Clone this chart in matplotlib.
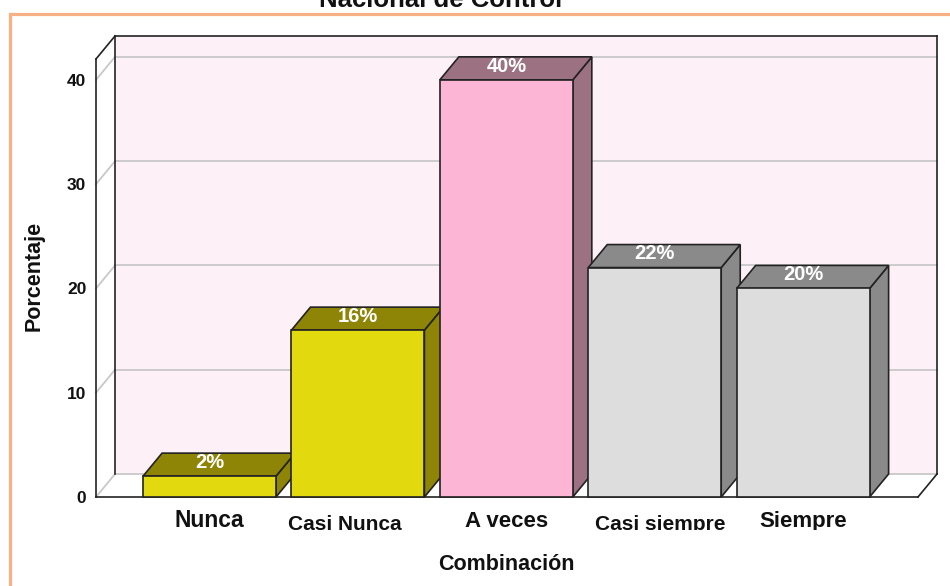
import matplotlib
matplotlib.use("Agg")
import matplotlib.pyplot as plt
from matplotlib.patches import Polygon, Rectangle
from matplotlib.transforms import Bbox, TransformedBbox

plt.rcParams["font.family"] = ["Liberation Sans", "DejaVu Sans"]

# ---- data ----
categories = ["Nunca", "Casi Nunca", "A veces", "Casi siempre", "Siempre"]
percentages = [2, 16, 40, 22, 20]
y_ticks = [0, 10, 20, 30, 40]
title_text = "Nacional de Control"
x_title = "Combinación"
y_title = "Porcentaje"

# ---- styling ----
front_colors = ["#E3D90F", "#E3D90F", "#FDB5D5", "#DDDDDD", "#DDDDDD"]
shade_colors = ["#8E8406", "#8E8406", "#9C7282", "#8A8A8A", "#8A8A8A"]
label_sizes = [16.5, 15, 16, 15, 16]
label_drop = [21.6, 23.8, 21.6, 23.8, 21.6]      # points below the floor line
label_shift = [0, -9.5, 0, 4, 0]                 # points, horizontal nudge
BAR_WIDTH = 0.896
DEPTH_PX = (19, 23)                              # 3-D depth in pixels
EDGE = "#222222"
GRID = "#C8C8C8"
WALL = "#FEF0F7"

W, H = 950, 586
fig = plt.figure(figsize=(W / 100, H / 100), dpi=100)
fig.patch.set_facecolor("white")

# front plane of the chart
left_px, right_px, bottom_px, top_px = 96, 918, 497, 59
ax = fig.add_axes([left_px / W, 1 - bottom_px / H,
                   (right_px - left_px) / W, (bottom_px - top_px) / H])
ax.set_facecolor("none")
for s in ax.spines.values():
    s.set_visible(False)
ax.set_xlim(-0.765, 4.774)
ax.set_ylim(0, 42.0)

# depth offset converted to data units
inv = ax.transData.inverted()
o = inv.transform(ax.transData.transform((0, 0)) + DEPTH_PX)
dx, dy = o[0], o[1]

xl, xr = ax.get_xlim()
ymax = ax.get_ylim()[1]


def poly(pts, fc, ec="none", lw=0, z=1):
    p = Polygon(pts, closed=True, facecolor=fc, edgecolor=ec, linewidth=lw,
                zorder=z, clip_on=False, joinstyle="miter")
    ax.add_patch(p)


def line(xs, ys, color, lw=1.2, z=2):
    ax.plot(xs, ys, color=color, lw=lw, zorder=z, clip_on=False,
            solid_capstyle="projecting")


# back wall, side wall and floor
poly([(xl + dx, dy), (xr + dx, dy), (xr + dx, ymax + dy), (xl + dx, ymax + dy)], WALL, z=1)
poly([(xl, 0), (xl, ymax), (xl + dx, ymax + dy), (xl + dx, dy)], "white", z=1)
poly([(xl, 0), (xr, 0), (xr + dx, dy), (xl + dx, dy)], "white", z=1)

# gridlines on the back and left walls
for t in y_ticks:
    line([xl + dx, xr + dx], [t + dy, t + dy], GRID, lw=1.3, z=2)
    line([xl, xl + dx], [t, t + dy], GRID, lw=1.3, z=2)

# frame edges
line([xl + dx, xl + dx], [dy, ymax + dy], EDGE, z=3)
line([xl + dx, xr + dx], [ymax + dy, ymax + dy], EDGE, z=3)
line([xr + dx, xr + dx], [dy, ymax + dy], EDGE, z=3)
line([xl, xl], [0, ymax], EDGE, z=3)
line([xl, xl + dx], [ymax, ymax + dy], EDGE, z=3)
line([xl, xr], [0, 0], EDGE, z=3)
line([xr, xr + dx], [0, dy], EDGE, z=3)

# 3-D bars, drawn left to right so later fronts overlap earlier sides
for i, (h, fc, sc) in enumerate(zip(percentages, front_colors, shade_colors)):
    z = 10 + i
    x0, x1 = i - BAR_WIDTH / 2, i + BAR_WIDTH / 2
    poly([(x1, 0), (x1 + dx, dy), (x1 + dx, h + dy), (x1, h)], sc, EDGE, 1.2, z)
    poly([(x0, h), (x1, h), (x1 + dx, h + dy), (x0 + dx, h + dy)], sc, EDGE, 1.2, z)
    ax.bar(i, h, width=BAR_WIDTH, color=fc, edgecolor=EDGE, linewidth=1.2,
           zorder=z, clip_on=False)
    ax.annotate(f"{h}%", xy=(i, h), xytext=(0, 6), textcoords="offset points",
                ha="center", va="baseline", color="white", fontsize=14.5,
                fontweight="bold", zorder=z + 0.5, annotation_clip=False)

# y ticks
ax.set_yticks(y_ticks)
ax.set_yticklabels([str(t) for t in y_ticks], fontsize=12.5, fontweight="bold",
                   color="#111111")
ax.tick_params(axis="y", length=0, pad=7)
ax.set_xticks([])

# category labels
clip = TransformedBbox(Bbox([[0, 1 - 529.5 / H], [1, 1]]), fig.transFigure)
for i, (c, fs, drop, sh) in enumerate(zip(categories, label_sizes, label_drop, label_shift)):
    t = ax.annotate(c, xy=(i, 0), xycoords=ax.get_xaxis_transform(),
                    xytext=(sh, -drop), textcoords="offset points",
                    ha="center", va="baseline", fontsize=fs, fontweight="bold",
                    color="#111111", annotation_clip=False)
    t.set_clip_box(clip)
    t.set_clip_on(True)

# axis titles
fig.text(506 / W, 1 - 570 / H, x_title, ha="center", va="baseline",
         fontsize=15.5, fontweight="bold", color="#111111")
fig.text(34 / W, 1 - 276 / H, y_title, ha="center", va="center", rotation=90,
         fontsize=15.5, fontweight="bold", color="#111111")

# chart title (last line, running off the top edge)
fig.text(441 / W, 1 - 7 / H, title_text, ha="center", va="baseline",
         fontsize=18.5, fontweight="bold", color="#111111")

# orange frame around the chart area
fig.patches.append(Rectangle((10 / W, -0.1), 1.2, 1 - 13.5 / H + 0.1,
                             transform=fig.transFigure, fill=False,
                             edgecolor="#F7B184", linewidth=2.3, zorder=0))

fig.savefig("out.png", dpi=100, facecolor="white")
